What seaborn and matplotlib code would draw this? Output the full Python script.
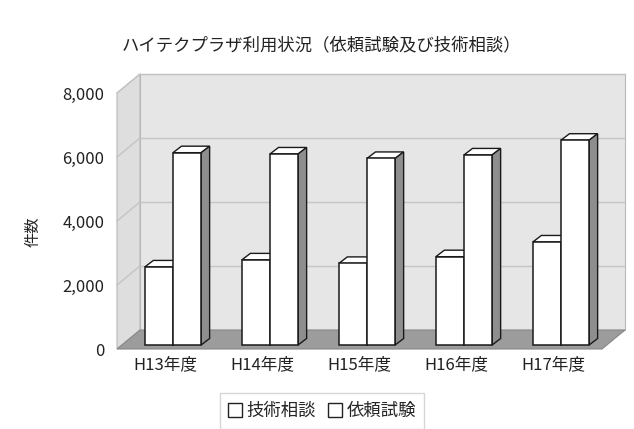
import numpy as np
import pandas as pd
import matplotlib
matplotlib.use("Agg")
import matplotlib.pyplot as plt
import seaborn as sns
from matplotlib.patches import Polygon, Patch
from matplotlib import transforms

# ---- data ----
years = ["H13年度", "H14年度", "H15年度", "H16年度", "H17年度"]
series = ["技術相談", "依頼試験"]
consult = [2440, 2660, 2550, 2760, 3220]
testing = [6010, 5970, 5830, 5940, 6400]
yticks = [0, 2000, 4000, 6000, 8000]
ytick_labels = ["0", "2,000", "4,000", "6,000", "8,000"]
title = "ハイテクプラザ利用状況（依頼試験及び技術相談）"
ylabel = "件数"

sns.set_theme(style="white")
plt.rcParams['font.family'] = ['Noto Sans CJK JP', 'DejaVu Sans']

df = pd.DataFrame({
    "年度": years * 2,
    "区分": [series[0]] * len(years) + [series[1]] * len(years),
    "件数": consult + testing,
})

W, H = 634, 429
fig = plt.figure(figsize=(W / 100, H / 100), dpi=100)
fig.patch.set_facecolor("white")

# front plane of the 3D box in pixels
fx0, fx1 = 117, 602
fy0, fy1 = 349, 93
ax = fig.add_axes([fx0 / W, 1 - fy0 / H, (fx1 - fx0) / W, (fy0 - fy1) / H])
ncat = len(years)
ymax = yticks[-1]
px_x = ncat / (fx1 - fx0)      # data units per pixel (x)
px_y = ymax / (fy0 - fy1)      # data units per pixel (y)

# wall depth
DX = 23 * px_x
DY = 19 * px_y
x0, x1 = -0.5, ncat - 0.5

wall_kw = dict(clip_on=False, linewidth=0.8, edgecolor="#b8b8b8", zorder=0)
# back wall
ax.add_patch(Polygon([(x0 + DX, DY), (x1 + DX, DY), (x1 + DX, ymax + DY), (x0 + DX, ymax + DY)],
                     facecolor="#e6e6e6", **wall_kw))
# left wall
ax.add_patch(Polygon([(x0, 0), (x0 + DX, DY), (x0 + DX, ymax + DY), (x0, ymax)],
                     facecolor="#dedede", **wall_kw))
# floor
ax.add_patch(Polygon([(x0, 0), (x1, 0), (x1 + DX, DY), (x0 + DX, DY)],
                     facecolor="#9c9c9c", clip_on=False, linewidth=0.8, edgecolor="#888888", zorder=0.5))
# gridlines
for v in yticks[1:]:
    ax.plot([x0 + DX, x1 + DX], [v + DY, v + DY], color="#c4c4c4", lw=1.0, zorder=0.6, clip_on=False)
    ax.plot([x0, x0 + DX], [v, v + DY], color="#c4c4c4", lw=1.0, zorder=0.6, clip_on=False)

# bars
sns.barplot(data=df, x="年度", y="件数", hue="区分", palette=["white", "white"],
            saturation=1, edgecolor="#1a1a1a", linewidth=1.1, width=0.58,
            legend=False, ax=ax)
ax.set_xlim(x0, x1)
ax.set_ylim(0, ymax)

off = transforms.offset_copy(ax.transData, fig=fig, x=7.5, y=4, units="dots")
bdx = 8.5 * px_x
bdy = 6.5 * px_y
for i, cont in enumerate(ax.containers):
    z = 3 + i
    for p in cont.patches:
        p.set_transform(off)
        p.set_zorder(z + 0.2)
        bx, bw, bh = p.get_x(), p.get_width(), p.get_height()
        # top face
        ax.add_patch(Polygon([(bx, bh), (bx + bw, bh), (bx + bw + bdx, bh + bdy), (bx + bdx, bh + bdy)],
                             facecolor="white", edgecolor="#1a1a1a", linewidth=1.0,
                             transform=off, zorder=z + 0.1, clip_on=False))
        # side face
        ax.add_patch(Polygon([(bx + bw, 0), (bx + bw + bdx, bdy), (bx + bw + bdx, bh + bdy), (bx + bw, bh)],
                             facecolor="#8e8e8e", edgecolor="#1a1a1a", linewidth=1.0,
                             transform=off, zorder=z + 0.1, clip_on=False))
        p.set_clip_on(False)

for s in ax.spines.values():
    s.set_visible(False)
ax.patch.set_visible(False)
ax.set_yticks(yticks)
ax.set_yticklabels(ytick_labels, fontsize=12, color="#222222")
ax.tick_params(axis="y", length=0, pad=9)
ax.tick_params(axis="x", length=0, pad=5, labelsize=12, labelcolor="#222222")
ax.set_xlabel("")
ax.set_ylabel("")

fig.text(33 / W, 1 - 232 / H, ylabel, rotation=90, ha="center", va="center",
         fontsize=11, color="#222222")
fig.text(322 / W, 1 - 45 / H, title, ha="center", va="center", fontsize=12.5, color="#222222")

handles = [Patch(facecolor="white", edgecolor="#222222", linewidth=1.0) for _ in series]
fig.legend(handles, series, loc="center", bbox_to_anchor=(322 / W, 1 - 411 / H),
           ncol=2, frameon=True, fancybox=False, edgecolor="#cccccc",
           handlelength=0.8, handleheight=0.8, handletextpad=0.25, columnspacing=0.7,
           fontsize=12.5, borderpad=0.5)

fig.savefig("out.png", dpi=100)
